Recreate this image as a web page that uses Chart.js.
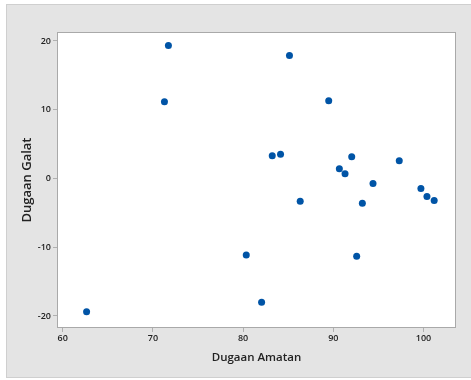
<!DOCTYPE html>
<html>
<head>
<meta charset="utf-8">
<script src="https://cdn.jsdelivr.net/npm/chart.js@4"></script>
<style>
html,body{margin:0;padding:0;background:#fff;overflow:hidden;}
#frame{position:absolute;left:6px;top:4px;width:480px;height:374px;background:#e4e4e4;border:1px solid #cfcfcf;box-sizing:border-box;}
#wrap{position:absolute;left:0;top:0;width:471px;height:380px;}
</style>
</head>
<body>
<div id="frame"></div>
<div id="wrap"><canvas id="c" width="471" height="380"></canvas></div>
<script>
const fittedValues = [62.65, 71.28, 71.72, 80.35, 82.05, 83.23, 84.15, 85.14, 86.33, 89.49, 90.67, 91.30, 92.04, 92.59, 93.22, 94.40, 97.31, 99.71, 100.38, 101.18];
const residuals    = [-19.39, 11.16, 19.35, -11.15, -17.99, 3.30, 3.53, 17.89, -3.30, 11.30, 1.41, 0.68, 3.16, -11.30, -3.59, -0.73, 2.57, -1.45, -2.62, -3.20];
const xTicks = [60, 70, 80, 90, 100];
const yTicks = [-20, -10, 0, 10, 20];
const xTitle = "Dugaan Amatan";
const yTitle = "Dugaan Galat";

const points = fittedValues.map((x, i) => ({x: x, y: residuals[i]}));

const plotBg = {
  id: 'plotBg',
  beforeDatasetsDraw(chart) {
    const a = chart.chartArea, ctx = chart.ctx;
    ctx.save();
    ctx.fillStyle = '#ffffff';
    ctx.fillRect(a.left, a.top, a.right - a.left, a.bottom - a.top);
    ctx.strokeStyle = '#a9a9a9';
    ctx.lineWidth = 1;
    ctx.strokeRect(a.left + 0.5, a.top + 0.5, a.right - a.left - 1, a.bottom - a.top - 1);
    ctx.restore();
  }
};

const tickFont = {family: "'Open Sans', sans-serif", size: 9, weight: '600'};
const xTitleFont = {family: "'Open Sans', sans-serif", size: 11.5, weight: '600'};
const yTitleFont = {family: "'Open Sans', sans-serif", size: 13, weight: '600'};

new Chart(document.getElementById('c'), {
  type: 'scatter',
  data: {
    datasets: [{
      data: points,
      backgroundColor: '#0054a6',
      borderColor: '#0054a6',
      borderWidth: 0,
      pointRadius: 3.5,
      pointHoverRadius: 3.5
    }]
  },
  options: {
    responsive: false,
    animation: false,
    events: [],
    layout: {padding: {top: 32, right: 15, left: 0, bottom: 0}},
    plugins: {legend: {display: false}, tooltip: {enabled: false}},
    scales: {
      x: {
        type: 'linear',
        min: 59.37, max: 103.6,
        afterBuildTicks: s => { s.ticks = xTicks.map(v => ({value: v})); },
        afterFit: s => { s.height = 52; },
        grid: {drawOnChartArea: false, drawTicks: true, tickLength: 4, color: '#b0b0b0'},
        border: {display: false},
        ticks: {color: '#222', font: tickFont, padding: 1, maxRotation: 0},
        title: {display: true, text: xTitle, color: '#222', font: xTitleFont, padding: {top: 0, bottom: 15}}
      },
      y: {
        type: 'linear',
        min: -21.75, max: 21.3,
        afterBuildTicks: s => { s.ticks = yTicks.map(v => ({value: v})); },
        afterFit: s => { s.width = 57; },
        grid: {drawOnChartArea: false, drawTicks: true, tickLength: 4, color: '#b0b0b0'},
        border: {display: false},
        ticks: {color: '#222', font: tickFont, padding: 2},
        title: {display: true, text: yTitle, color: '#222', font: yTitleFont, padding: {top: 19, bottom: 0}}
      }
    }
  },
  plugins: [plotBg]
});
</script>
</body>
</html>
